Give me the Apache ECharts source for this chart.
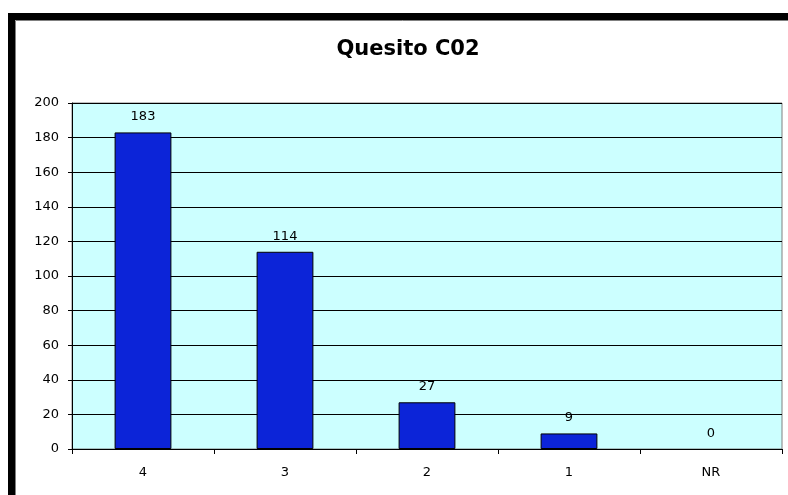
<!DOCTYPE html>
<html>
<head>
<meta charset="utf-8">
<script src="https://cdn.jsdelivr.net/npm/echarts@6/dist/echarts.min.js"></script>
<style>
  html, body { margin: 0; padding: 0; background: #ffffff; }
  #chart { width: 788px; height: 495px; }
</style>
</head>
<body>
<div id="chart"></div>
<script>
// Answers to question C02
const categories = ['4', '3', '2', '1', 'NR'];
const counts = [183, 114, 27, 9, 0];
const yTicks = { min: 0, max: 200, step: 20 };

const FONT = 'DejaVu Sans, Verdana, sans-serif';
const chart = echarts.init(document.getElementById('chart'), null, { renderer: 'canvas' });

// empty categories keep their value label but draw no outline
const barData = counts.map(v => (v === 0 ? { value: v, itemStyle: { borderWidth: 0 } } : v));

chart.setOption({
  backgroundColor: '#ffffff',
  animation: false,
  title: {
    text: 'Quesito C02',
    left: 403,
    top: 34,
    textAlign: 'center',
    textStyle: { fontFamily: FONT, fontWeight: 'bold', fontSize: 21, color: '#000' }
  },
  graphic: [
    // heavy frame on the left and top edges
    { type: 'rect', shape: { x: 8, y: 13, width: 800, height: 7 }, style: { fill: '#000' }, silent: true },
    { type: 'rect', shape: { x: 8, y: 13, width: 7, height: 500 }, style: { fill: '#000' }, silent: true },
    { type: 'polyline', shape: { points: [[15.5, 500], [15.5, 20.5], [800, 20.5]] },
      style: { stroke: '#808080', lineWidth: 1, fill: null }, silent: true }
  ],
  grid: {
    left: 72, top: 103, right: 6, bottom: 46,
    show: true,
    backgroundColor: '#CCFFFF',
    borderColor: '#808080',
    borderWidth: 1
  },
  xAxis: {
    type: 'category',
    data: categories,
    axisLine: { show: true, lineStyle: { color: '#000', width: 1 } },
    axisTick: { show: true, length: 5, lineStyle: { color: '#000' } },
    axisLabel: { fontFamily: FONT, fontSize: 13, color: '#000', margin: 17 },
    splitLine: { show: false }
  },
  yAxis: {
    type: 'value',
    min: yTicks.min,
    max: yTicks.max,
    interval: yTicks.step,
    axisLine: { show: true, lineStyle: { color: '#000', width: 1 } },
    axisTick: { show: true, length: 4, lineStyle: { color: '#000' } },
    axisLabel: { fontFamily: FONT, fontSize: 13, color: '#000', margin: 13 },
    splitLine: { show: true, lineStyle: { color: '#000', width: 1 } }
  },
  series: [{
    type: 'bar',
    data: barData,
    barWidth: '40%',
    itemStyle: { color: '#0C24D8', borderColor: '#000', borderWidth: 1 },
    label: {
      show: true,
      position: 'top',
      distance: 9,
      fontFamily: FONT,
      fontSize: 13,
      color: '#000'
    }
  }]
});
</script>
</body>
</html>
